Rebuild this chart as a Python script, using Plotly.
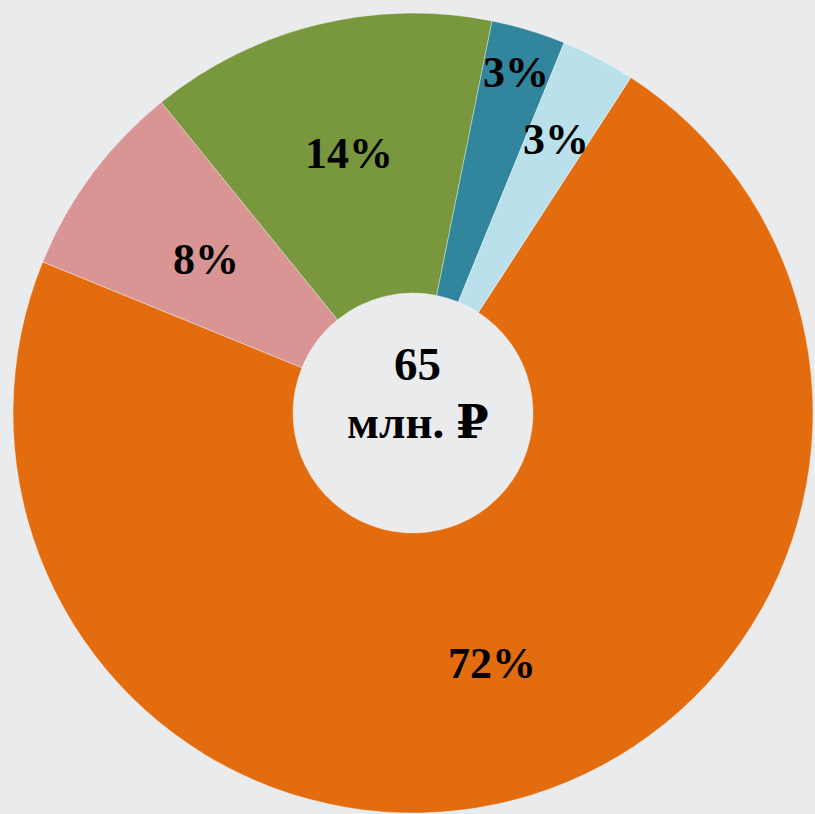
import math
import plotly.graph_objects as go

labels = ["Оранжевый", "Розовый", "Зелёный", "Синий", "Голубой"]
values = [72, 8, 14, 3, 3]
colors = ["#E36C0E", "#D99594", "#79983E", "#31859C", "#BAE1EB"]
center_value = "65"
center_unit = "млн. ₽"

# style: label distance from centre as a fraction of outer radius
label_radius = [0.657, 0.645, 0.668, 0.89, 0.773]

W, H = 815, 814
dom_x = [0.016, 0.9975]
dom_y = [0.0012, 0.984]
rotation = 33
font_family = "Liberation Serif, Times New Roman, DejaVu Serif, serif"

fig = go.Figure(go.Pie(
    labels=labels,
    values=values,
    sort=False,
    direction="clockwise",
    rotation=rotation,
    hole=0.30,
    marker=dict(colors=colors, line=dict(color="rgba(255,255,255,0.35)", width=1)),
    textinfo="none",
    domain=dict(x=dom_x, y=dom_y),
    showlegend=False,
    hoverinfo="label+percent",
))

# percentage labels placed along each slice bisector (derived from the data)
total = sum(values)
cx = (dom_x[0] + dom_x[1]) / 2
cy = (dom_y[0] + dom_y[1]) / 2
R = min(W * (dom_x[1] - dom_x[0]), H * (dom_y[1] - dom_y[0])) / 2
cum = 0
for v, rf in zip(values, label_radius):
    mid = rotation + 360 * (cum + v / 2) / total
    cum += v
    th = math.radians(mid)
    x = cx + R * rf * math.sin(th) / W
    y = cy + R * rf * math.cos(th) / H
    fig.add_annotation(text=f"{round(100 * v / total)}%", x=x, y=y, xref="paper", yref="paper",
                       xanchor="center", yanchor="middle", showarrow=False,
                       font=dict(family=font_family, size=44, color="black", weight="bold"))

font_c = dict(family=font_family, size=47, color="black", weight="bold")
fig.add_annotation(text=center_value, x=0.512, y=0.553, xref="paper", yref="paper",
                   xanchor="center", yanchor="middle", showarrow=False, font=font_c)
fig.add_annotation(text=center_unit, x=0.513, y=0.481, xref="paper", yref="paper",
                   xanchor="center", yanchor="middle", showarrow=False, font=font_c)

fig.update_layout(
    width=W, height=H,
    margin=dict(l=0, r=0, t=0, b=0),
    paper_bgcolor="#EAEBEC",
    plot_bgcolor="#EAEBEC",
)
fig.write_html("out.html", config={"displayModeBar": False},
               post_script="document.body.style.margin='0';document.body.style.background='#EAEBEC';")
